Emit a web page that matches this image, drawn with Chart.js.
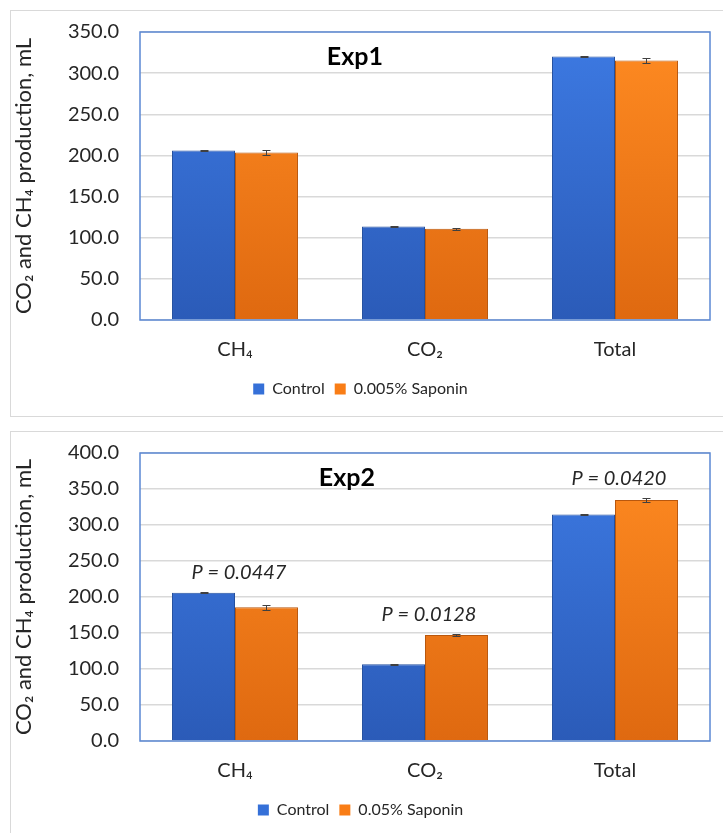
<!DOCTYPE html>
<html>
<head>
<meta charset="utf-8">
<script src="https://cdn.jsdelivr.net/npm/chart.js@4"></script>
<style>
    body { margin: 0; background: #fff; width: 723px; height: 833px; overflow: hidden; position: relative; }
    .panel { position: absolute; left: 10px; width: 713px; border: 1.5px solid #d9d9d9; border-right: none; background: #fff; }
    #panel1 { top: 10px; height: 405px; }
    #panel2 { top: 431px; height: 410px; }
    canvas { position: absolute; left: 0; top: 0; }
</style>
</head>
<body>
<div class="panel" id="panel1"><canvas id="chart1" width="712" height="405"></canvas></div>
<div class="panel" id="panel2"><canvas id="chart2" width="712" height="401"></canvas></div>
<script>
const categories = ['CH₄', 'CO₂', 'Total'];

const exp1Control = [206.0, 113.7, 320.1];
const exp1ControlErr = [0.8, 0.7, 0.8];
const exp1Saponin = [203.6, 110.9, 315.3];
const exp1SaponinErr = [3.0, 1.2, 2.8];

const exp2Control = [206.0, 106.7, 314.6];
const exp2ControlErr = [0.8, 0.8, 0.8];
const exp2Saponin = [185.6, 147.1, 334.6];
const exp2SaponinErr = [3.2, 1.2, 2.8];
const exp2PValues = ['P = 0.0447', 'P = 0.0128', 'P = 0.0420'];

const FONT = "Lato, 'Noto Sans', sans-serif";
const TEXT = '#262626';

const barFill = (top, bottom) => (ctx) => {
    const area = ctx.chart.chartArea;
    if (!area) return top;
    const g = ctx.chart.ctx.createLinearGradient(0, area.top, 0, area.bottom);
    g.addColorStop(0, top);
    g.addColorStop(1, bottom);
    return g;
};

// error bars, drawn through the scales
const errorBars = {
    id: 'errorBars',
    afterDatasetsDraw(chart) {
        const { ctx } = chart;
        const y = chart.scales.y;
        ctx.save();
        ctx.strokeStyle = '#404040';
        ctx.lineWidth = 1;
        chart.data.datasets.forEach((ds, di) => {
            chart.getDatasetMeta(di).data.forEach((bar, i) => {
                const v = ds.data[i];
                const e = ds.errors[i];
                const top = Math.round(y.getPixelForValue(v + e)) + 0.5;
                const bot = Math.round(y.getPixelForValue(v - e)) + 0.5;
                const x = Math.round(bar.x) + 0.5;
                ctx.beginPath();
                ctx.moveTo(x, top); ctx.lineTo(x, bot);
                ctx.moveTo(x - 4, top); ctx.lineTo(x + 4, top);
                ctx.moveTo(x - 4, bot); ctx.lineTo(x + 4, bot);
                ctx.stroke();
            });
        });
        ctx.restore();
    }
};

// blue frame round the plot area, title and p-value labels
const decorations = {
    id: 'decorations',
    afterDraw(chart, args, opts) {
        const { ctx, chartArea: a } = chart;
        ctx.save();
        ctx.strokeStyle = '#5b88d4';
        ctx.lineWidth = 1.5;
        ctx.strokeRect(a.left, a.top, a.right - a.left, a.bottom - a.top);

        ctx.fillStyle = '#000';
        ctx.textAlign = 'center';
        ctx.textBaseline = 'middle';
        ctx.font = `bold 25px ${FONT}`;
        ctx.fillText(opts.title, a.left + (a.right - a.left) * opts.titleX, a.top + (a.bottom - a.top) * 0.088);

        if (opts.pValues) {
            ctx.fillStyle = TEXT;
            ctx.font = `italic 20px ${FONT}`;
            const ds = chart.data.datasets;
            opts.pValues.forEach((label, i) => {
                const top = Math.max(...ds.map(d => d.data[i] + d.errors[i]));
                const x = chart.scales.x.getPixelForValue(i);
                ctx.fillText(label, x + 4, chart.scales.y.getPixelForValue(top + 27));
            });
        }
        ctx.restore();
    }
};

const makeChart = (id, control, controlErr, saponin, saponinErr, saponinLabel, yMax, title, titleX, pValues, padTop, padBottom) => {
    const colors = ['#3570d8', '#f97d16'];
    return new Chart(document.getElementById(id), {
        type: 'bar',
        data: {
            labels: categories,
            datasets: [
                {
                    label: 'Control',
                    data: control,
                    errors: controlErr,
                    backgroundColor: barFill('#3d7ae3', '#2b5bb8'),
                    borderColor: '#24509f',
                    borderWidth: 1,
                    categoryPercentage: 0.663,
                    barPercentage: 1.0,
                },
                {
                    label: saponinLabel,
                    data: saponin,
                    errors: saponinErr,
                    backgroundColor: barFill('#ff8b22', '#df6910'),
                    borderColor: '#b9570d',
                    borderWidth: 1,
                    categoryPercentage: 0.663,
                    barPercentage: 1.0,
                },
            ],
        },
        options: {
            responsive: false,
            animation: false,
            layout: { padding: { top: padTop, right: 13, bottom: padBottom, left: 0 } },
            plugins: {
                legend: {
                    position: 'bottom',
                    labels: {
                        boxWidth: 11,
                        boxHeight: 11,
                        padding: 10,
                        color: TEXT,
                        font: { family: FONT, size: 16 },
                        generateLabels: (chart) => Chart.defaults.plugins.legend.labels.generateLabels(chart)
                            .map((item, i) => Object.assign(item, { fillStyle: colors[i], strokeStyle: colors[i], lineWidth: 0 })),
                    },
                },
                tooltip: { enabled: false },
                decorations: { title, titleX, pValues },
            },
            scales: {
                x: {
                    grid: { display: false },
                    border: { display: false },
                    ticks: { color: TEXT, padding: 10, font: { family: FONT, size: 20 } },
                    afterFit: (scale) => { scale.height = 51; },
                },
                y: {
                    min: 0,
                    max: yMax,
                    grid: { color: '#d9d9d9', lineWidth: 1.5, drawTicks: false },
                    border: { display: false },
                    ticks: {
                        stepSize: 50,
                        padding: 21,
                        color: TEXT,
                        font: { family: FONT, size: 20 },
                        callback: (v) => v.toFixed(1),
                    },
                    title: {
                        display: true,
                        text: 'CO₂ and CH₄ production, mL',
                        color: TEXT,
                        padding: 0,
                        font: { family: FONT, size: 22 },
                    },
                    afterFit: (scale) => {
                        scale.width = 129;
                        scale.paddingTop = 0;
                        scale.paddingBottom = 0;
                    },
                },
            },
        },
        plugins: [errorBars, decorations],
    });
};

makeChart('chart1', exp1Control, exp1ControlErr, exp1Saponin, exp1SaponinErr, '0.005% Saponin', 350, 'Exp1', 0.377, null, 21, 9);
makeChart('chart2', exp2Control, exp2ControlErr, exp2Saponin, exp2SaponinErr, '0.05% Saponin', 400, 'Exp2', 0.363, exp2PValues, 21, 5);
</script>
</body>
</html>
